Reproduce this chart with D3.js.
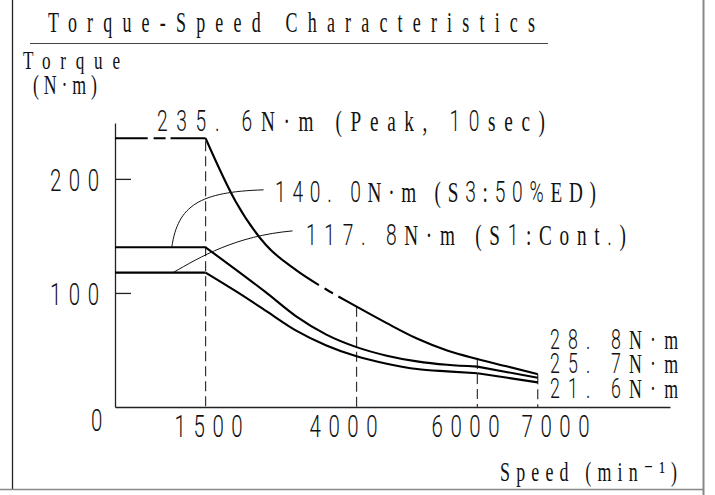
<!DOCTYPE html>
<html>
<head>
<meta charset="utf-8">
<script src="https://cdn.jsdelivr.net/npm/d3@7"></script>
<style>
  html, body { margin: 0; padding: 0; background: #fff; }
  svg { display: block; }
</style>
</head>
<body>
<div id="chart"></div>
<script>
// ---------------- data ----------------
const speed      = [0, 1500, 2000, 2500, 3000, 3500, 4000, 4500, 5000, 5500, 6000, 6500, 7000];
const peakTorque = [235.6, 235.6, 180, 142, 120, 103, 88, 73.5, 60, 49.5, 42, 35.5, 28.8];
const s3Torque   = [140.0, 140.0, 120.5, 100.5, 79.5, 63.5, 52.5, 45, 40, 37, 35.4, 30.5, 25.7];
const s1Torque   = [117.8, 117.8, 101.5, 84.3, 67, 54, 44.5, 38, 33.3, 31.2, 29.6, 25.6, 21.6];

const yTicks = [100, 200];
const xTicks = [1500, 4000, 6000, 7000];
const xTickLabels = ["1500", "4000", "6000", "7000"];
const xTickLabelAt = [1550, 3785, 5805, 7295];   // label centres, in speed units
const guideSpeeds = [1500, 4000, 6000, 7000];     // dashed verticals

const titleText = "Torque-Speed Characteristics";
const yTitle1 = "Torque";
const yTitle2 = "(N·m)";
const xTitle = "Speed (min⁻¹)";
const peakLabel = "235. 6N·m (Peak, 10sec)";
const s3Label = "140. 0N·m (S3:50%ED)";
const s1Label = "117. 8N·m (S1:Cont.)";
const endLabels = ["28. 8N·m", "25. 7N·m", "21. 6N·m"];

// ---------------- setup ----------------
const W = 715, H = 495;
const svg = d3.select("#chart").append("svg").attr("width", W).attr("height", H);
svg.append("rect").attr("width", W).attr("height", H).attr("fill", "#fff");

const x = d3.scaleLinear().domain([0, 9190]).range([115, 670]);
const y = d3.scaleLinear().domain([0, 249]).range([407, 123]);

const SERIF = "'Liberation Serif','DejaVu Serif','Times New Roman',serif";
const SANS = "Roboto,'Liberation Sans','DejaVu Sans',sans-serif";

function drawLabel(str, lx, by, size, width, sx) {
  const t = svg.append("text")
    .attr("transform", `translate(${lx},${by}) scale(${sx},1)`)
    .attr("font-size", size)
    .attr("fill", "#111")
    .attr("xml:space", "preserve");
  const runs = str.match(/[0-9.%]+|[^0-9.%]+/g);
  runs.forEach(r => {
    const isNum = /[0-9.%]/.test(r[0]);
    t.append("tspan")
      .attr("font-family", isNum ? SANS : SERIF)
      .attr("font-weight", isNum ? 300 : 400)
      .text(r);
  });
  t.attr("textLength", width / sx).attr("lengthAdjust", "spacing");
  return t;
}

// ---------------- frame ----------------
svg.append("line").attr("x1", 12.5).attr("x2", 12.5).attr("y1", 0).attr("y2", 489)
  .attr("stroke", "#222").attr("stroke-width", 1.3);
svg.append("line").attr("x1", 0).attr("x2", 704).attr("y1", 489.5).attr("y2", 489.5)
  .attr("stroke", "#888").attr("stroke-width", 1.5);
svg.append("line").attr("x1", 703.5).attr("x2", 703.5).attr("y1", 0).attr("y2", H)
  .attr("stroke", "#888").attr("stroke-width", 2);
svg.append("line").attr("x1", 30).attr("x2", 548).attr("y1", 43.5).attr("y2", 43.5)
  .attr("stroke", "#444").attr("stroke-width", 1.2);

// ---------------- axes ----------------
const yAxis = svg.append("g").attr("transform", `translate(${x(0)},0)`)
  .call(d3.axisLeft(y).tickValues(yTicks).tickSize(-16).tickSizeOuter(0).tickFormat(""));
const xAxis = svg.append("g").attr("transform", `translate(0,${y(0)})`)
  .call(d3.axisBottom(x).tickValues([]).tickSizeOuter(0));
[yAxis, xAxis].forEach(a => {
  a.selectAll("path, line").attr("stroke", "#222").attr("stroke-width", 1.3);
  a.selectAll("text").remove();
});

// ---------------- dashed guides ----------------
guideSpeeds.forEach(s => {
  const i = speed.indexOf(s);
  svg.append("line")
    .attr("x1", x(s)).attr("x2", x(s))
    .attr("y1", y(peakTorque[i]) + (s === 1500 ? 3 : 0)).attr("y2", y(0))
    .attr("stroke", "#333").attr("stroke-width", 1.2)
    .attr("stroke-dasharray", "10,5");
});

// ---------------- curves ----------------
const pts = arr => speed.map((s, i) => [s, arr[i]]);
const lin = d3.line().x(d => x(d[0])).y(d => y(d[1]));
const mono = d3.line().x(d => x(d[0])).y(d => y(d[1])).curve(d3.curveMonotoneX);

function lenAtX(node, px) {
  let lo = 0, hi = node.getTotalLength();
  for (let k = 0; k < 40; k++) {
    const mid = (lo + hi) / 2;
    if (node.getPointAtLength(mid).x < px) lo = mid; else hi = mid;
  }
  return (lo + hi) / 2;
}
function dashBetween(path, breaks) {
  const node = path.node();
  const total = node.getTotalLength();
  const L = breaks.map(b => lenAtX(node, x(b)));
  const arr = [L[0]];
  for (let k = 1; k < L.length; k++) arr.push(L[k] - L[k - 1]);
  arr.push(total - L[L.length - 1] + 1);
  path.attr("stroke-dasharray", arr.join(","));
}

const curveStyle = p => p.attr("fill", "none").attr("stroke", "#000").attr("stroke-width", 2.1)
  .attr("stroke-linejoin", "round");

// peak
const pk = pts(peakTorque);
const pkFlat = svg.append("path").attr("d", lin(pk.slice(0, 2))).call(curveStyle);
dashBetween(pkFlat, [541, 640, 838, 920]);
const pkCurve = svg.append("path").attr("d", mono(pk.slice(1))).call(curveStyle);
dashBetween(pkCurve, [3376, 3470, 3608, 3697]);

// S3 and S1
[s3Torque, s1Torque].forEach(arr => {
  const p = pts(arr);
  const i6 = speed.indexOf(6000);
  svg.append("path").attr("d", lin(p.slice(0, 2))).call(curveStyle);
  svg.append("path").attr("d", mono(p.slice(1, i6 + 1))).call(curveStyle);
  svg.append("path").attr("d", lin(p.slice(i6))).call(curveStyle);
});

// ---------------- leader lines ----------------
function leader(c) {
  const P = c.map(d => [x(d[0]), y(d[1])]);
  const p = d3.path();
  p.moveTo(P[0][0], P[0][1]);
  p.bezierCurveTo(P[1][0], P[1][1], P[2][0], P[2][1], P[3][0], P[3][1]);
  svg.append("path").attr("d", p.toString()).attr("fill", "none")
    .attr("stroke", "#111").attr("stroke-width", 1);
}
leader([[940, s3Torque[0]], [1040, 177], [1405, 188.6], [2460, 190.4]]);
leader([[960, s1Torque[0]], [1415, 131.6], [1995, 150], [2940, 154.4]]);

// ---------------- text ----------------
drawLabel(titleText, 48, 32, 29, 487, 0.62);
drawLabel(yTitle1, 23, 69, 26, 97, 0.66);
drawLabel(yTitle2, 33, 94, 27, 64, 0.66);

yTicks.forEach(v => drawLabel(String(v), 50, y(v) + 12, 31, 49, 0.66));
drawLabel("0", 91, 431, 31, 12, 0.66);

xTickLabels.forEach((t, i) => {
  const w = 68;
  drawLabel(t, x(xTickLabelAt[i]) - w / 2, 437, 31, w, 0.66);
});

drawLabel(peakLabel, 157, 131, 30, 388, 0.64);
drawLabel(s3Label, 275, 202, 30, 321, 0.64);
drawLabel(s1Label, 306, 245, 30, 320, 0.64);

drawLabel(endLabels[0], 550, 349, 27, 128, 0.66);
drawLabel(endLabels[1], 550, 373, 27, 128, 0.66);
drawLabel(endLabels[2], 550, 398, 27, 128, 0.66);

drawLabel(xTitle, 500, 481, 28, 177, 0.64);
</script>
</body>
</html>
